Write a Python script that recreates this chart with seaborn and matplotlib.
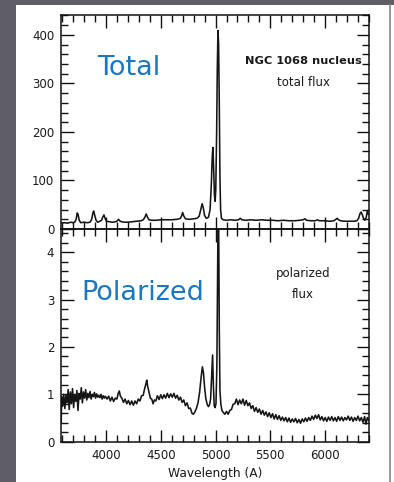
import matplotlib
matplotlib.use("Agg")
import matplotlib.pyplot as plt
from matplotlib.patches import Rectangle
from matplotlib.lines import Line2D
from matplotlib.ticker import MultipleLocator
import pandas as pd
import seaborn as sns

# ---------------- data ----------------
total_wl = [3592, 3620, 3650, 3680, 3700, 3715, 3728, 3738, 3746, 3756, 3770, 3800,
            3830, 3855, 3870, 3880, 3888, 3898, 3910, 3925, 3945, 3960, 3972, 3982,
            3992, 4005, 4030, 4060, 4090, 4105, 4115, 4125, 4140, 4170, 4200, 4240,
            4280, 4320, 4340, 4355, 4367, 4378, 4392, 4420, 4460, 4500, 4550, 4600,
            4650, 4680, 4692, 4700, 4710, 4725, 4760, 4800, 4830, 4850, 4865, 4878,
            4888, 4900, 4915, 4935, 4950, 4962, 4970, 4976, 4982, 4990, 4996, 5002,
            5010, 5016, 5022, 5028, 5034, 5040, 5046, 5054, 5070, 5100, 5140, 5180,
            5210, 5225, 5240, 5280, 5320, 5370, 5420, 5470, 5520, 5570, 5620, 5670,
            5720, 5770, 5800, 5815, 5830, 5870, 5910, 5930, 5945, 5990, 6040, 6080,
            6098, 6110, 6122, 6140, 6180, 6220, 6260, 6290, 6305, 6318, 6328, 6338,
            6350, 6362, 6375, 6385, 6395]
total_flux = [12, 13, 12, 14, 13, 14, 20, 33, 30, 18, 13, 14,
              13, 14, 20, 32, 37, 28, 18, 14, 16, 18, 25, 29,
              22, 16, 15, 14, 15, 17, 20, 17, 15, 14, 14, 15,
              16, 17, 19, 24, 31, 25, 19, 18, 18, 19, 19, 19,
              20, 22, 28, 34, 27, 21, 20, 21, 22, 26, 40, 52,
              44, 28, 22, 24, 40, 95, 150, 168, 130, 70, 57, 80,
              200, 330, 409, 380, 260, 110, 40, 22, 19, 18, 19, 18,
              19, 22, 19, 18, 19, 18, 19, 18, 18, 17, 18, 17,
              17, 18, 19, 21, 18, 17, 17, 19, 17, 17, 16, 17,
              20, 22, 19, 17, 16, 16, 16, 17, 22, 32, 35, 30,
              22, 18, 24, 38, 30]

pol_wl = [3592, 3596, 3605, 3615, 3625, 3635, 3645, 3655, 3665, 3675, 3685, 3695,
          3705, 3715, 3725, 3735, 3745, 3755, 3765, 3775, 3785, 3795, 3805, 3815,
          3825, 3835, 3845, 3855, 3865, 3875, 3885, 3895, 3905, 3915, 3925, 3935,
          3945, 3955, 3965, 3975, 3985, 3995, 4010, 4025, 4040, 4055, 4070, 4085,
          4100, 4112, 4122, 4132, 4145, 4160, 4175, 4190, 4205, 4220, 4235, 4250,
          4265, 4280, 4295, 4310, 4325, 4340, 4355, 4365, 4372, 4380, 4392, 4405,
          4418, 4430, 4442, 4455, 4470, 4485, 4500, 4515, 4530, 4545, 4560, 4575,
          4590, 4605, 4620, 4635, 4650, 4665, 4680, 4695, 4710, 4725, 4740, 4755,
          4770, 4785, 4797, 4810, 4825, 4840, 4855, 4868, 4880, 4890, 4900, 4912,
          4925, 4935, 4945, 4955, 4965, 4973, 4980, 4988, 4996, 5004, 5012, 5018,
          5023, 5028, 5034, 5040, 5048, 5058, 5070, 5085, 5100, 5115, 5130, 5145,
          5160, 5175, 5190, 5205, 5220, 5235, 5250, 5265, 5280, 5295, 5310, 5325,
          5340, 5355, 5370, 5385, 5400, 5415, 5430, 5445, 5460, 5475, 5490, 5505,
          5520, 5535, 5550, 5565, 5580, 5595, 5610, 5625, 5640, 5655, 5670, 5685,
          5700, 5715, 5730, 5745, 5760, 5775, 5790, 5805, 5820, 5835, 5850, 5865,
          5880, 5895, 5910, 5925, 5940, 5955, 5970, 5985, 6000, 6015, 6030, 6045,
          6060, 6075, 6090, 6105, 6120, 6135, 6150, 6165, 6180, 6195, 6210, 6225,
          6240, 6255, 6270, 6285, 6300, 6315, 6330, 6345, 6360, 6372, 6385, 6398]
pol_flux = [0.40, 0.95, 0.75, 1.00, 0.70, 0.98, 0.82, 1.10, 0.68, 1.05, 0.80, 1.12,
            0.72, 1.00, 0.85, 1.08, 0.66, 1.02, 0.90, 1.14, 0.82, 1.05, 0.92, 1.10,
            0.88, 1.02, 0.93, 1.06, 0.90, 1.00, 0.95, 1.04, 0.92, 1.01, 0.94, 0.98,
            0.93, 1.00, 0.90, 0.97, 0.92, 0.96, 0.90, 0.96, 0.86, 0.94, 0.85, 0.92,
            0.90, 1.02, 1.07, 0.96, 0.92, 0.83, 0.90, 0.80, 0.87, 0.78, 0.86, 0.77,
            0.86, 0.80, 0.90, 0.86, 0.97, 0.98, 1.14, 1.22, 1.30, 1.18, 1.06, 0.92,
            0.90, 0.80, 0.88, 0.86, 0.97, 0.89, 0.99, 0.91, 0.99, 0.92, 1.02, 0.93,
            1.01, 0.94, 1.02, 0.92, 0.98, 0.88, 0.94, 0.83, 0.88, 0.76, 0.82, 0.70,
            0.71, 0.60, 0.58, 0.62, 0.70, 0.82, 1.05, 1.35, 1.58, 1.45, 1.15, 0.90,
            0.78, 0.74, 0.78, 0.90, 1.40, 1.83, 1.20, 0.76, 0.72, 0.80, 1.60, 3.20,
            4.80, 4.80, 2.40, 1.10, 0.80, 0.66, 0.62, 0.58, 0.64, 0.58, 0.66, 0.68,
            0.79, 0.80, 0.90, 0.78, 0.88, 0.80, 0.90, 0.77, 0.87, 0.76, 0.82, 0.70,
            0.76, 0.64, 0.72, 0.62, 0.69, 0.58, 0.66, 0.56, 0.63, 0.53, 0.61, 0.51,
            0.59, 0.48, 0.57, 0.47, 0.55, 0.45, 0.52, 0.44, 0.51, 0.42, 0.50, 0.41,
            0.48, 0.42, 0.49, 0.40, 0.47, 0.39, 0.48, 0.42, 0.50, 0.43, 0.51, 0.45,
            0.54, 0.47, 0.56, 0.49, 0.57, 0.46, 0.53, 0.44, 0.51, 0.43, 0.52, 0.45,
            0.53, 0.44, 0.51, 0.43, 0.53, 0.45, 0.52, 0.44, 0.51, 0.46, 0.54, 0.45,
            0.52, 0.43, 0.51, 0.45, 0.54, 0.44, 0.51, 0.41, 0.53, 0.37, 0.51, 0.44]

x_ticks = [4000, 4500, 5000, 5500, 6000]
total_yticks = [0, 100, 200, 300, 400]
pol_yticks = [0, 1, 2, 3, 4]

# ---------------- figure ----------------
sns.set_theme(style="ticks")
plt.rcParams["font.family"] = ["DejaVu Sans"]

W, H = 394, 482
fig = plt.figure(figsize=(W / 100, H / 100), dpi=100)
fig.patch.set_facecolor("#5f5d66")
fig.add_artist(Rectangle((16 / W, 0), (W - 16) / W, (H - 5) / H,
                         transform=fig.transFigure, facecolor="white",
                         edgecolor="none", zorder=-10))
fig.add_artist(Line2D([389.5 / W, 389.5 / W], [0, (H - 5) / H],
                      transform=fig.transFigure, color="#8d8d93", lw=1.3))

left, width = 61 / W, 308 / W
ax1 = fig.add_axes([left, (H - 229) / H, width, 214 / H])
ax2 = fig.add_axes([left, (H - 441.7) / H, width, 212.7 / H])

df_tot = pd.DataFrame({"wl": total_wl, "flux": total_flux})
df_pol = pd.DataFrame({"wl": pol_wl, "flux": pol_flux})

line_kw = dict(color="#151515", linewidth=1.15, estimator=None, sort=False)
sns.lineplot(data=df_tot, x="wl", y="flux", ax=ax1, **line_kw)
sns.lineplot(data=df_pol, x="wl", y="flux", ax=ax2, **line_kw)

for ax in (ax1, ax2):
    ax.set_facecolor("none")
    ax.set_xlim(3590, 6400)
    ax.set_xticks(x_ticks)
    ax.xaxis.set_minor_locator(MultipleLocator(100))
    for s in ax.spines.values():
        s.set_visible(True)
        s.set_color("#111111")
        s.set_linewidth(1.1)
    ax.tick_params(which="both", direction="in", top=True, right=True,
                   color="#111111", width=1.0)
    ax.tick_params(which="major", length=9, labelsize=8.5, labelcolor="#1a1a1a")
    ax.tick_params(which="minor", length=5)
    ax.tick_params(axis="y", pad=4.8)
    ax.tick_params(axis="x", pad=5.6)
    ax.set_ylabel("")

ax1.set_ylim(0, 441)
ax1.set_yticks(total_yticks)
ax1.yaxis.set_minor_locator(MultipleLocator(20))
ax1.tick_params(axis="x", labelbottom=False)
ax1.set_xlabel("")

ax2.set_ylim(0, 4.49)
ax2.set_yticks(pol_yticks)
ax2.yaxis.set_minor_locator(MultipleLocator(0.2))
ax2.set_xlabel("Wavelength (A)", fontsize=8.8, color="#1a1a1a", labelpad=3)

blue = "#1a78c2"
ax1.text(0.117, 0.72, "Total", transform=ax1.transAxes, fontsize=19.5,
         color=blue, ha="left", va="baseline")
ax2.text(0.065, 0.666, "Polarized", transform=ax2.transAxes, fontsize=19.5,
         color=blue, ha="left", va="baseline")

ax1.text(0.786, 0.771, "NGC 1068 nucleus", transform=ax1.transAxes, fontsize=8.2,
         fontweight="bold", color="#1a1a1a", ha="center", va="baseline")
ax1.text(0.786, 0.668, "total flux", transform=ax1.transAxes, fontsize=8.5,
         color="#1a1a1a", ha="center", va="baseline")
ax2.text(0.786, 0.776, "polarized", transform=ax2.transAxes, fontsize=8.5,
         color="#1a1a1a", ha="center", va="baseline")
ax2.text(0.786, 0.674, "flux", transform=ax2.transAxes, fontsize=8.5,
         color="#1a1a1a", ha="center", va="baseline")

fig.savefig("out.png", dpi=100, facecolor=fig.get_facecolor())
